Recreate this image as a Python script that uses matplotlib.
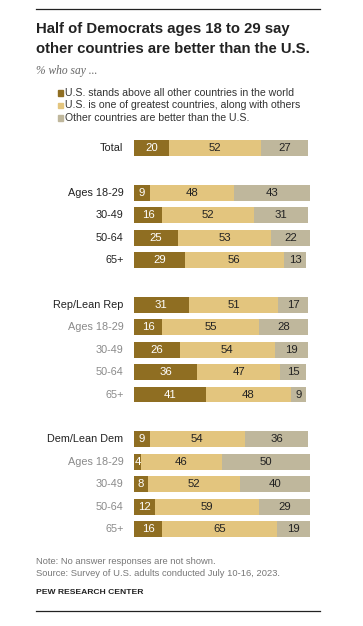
import matplotlib.pyplot as plt

plt.rcParams['font.family'] = ['Liberation Sans', 'DejaVu Sans']

labels = ['Total', 'Ages 18-29', '30-49', '50-64', '65+',
          'Rep/Lean Rep', 'Ages 18-29', '30-49', '50-64', '65+',
          'Dem/Lean Dem', 'Ages 18-29', '30-49', '50-64', '65+']
rows = [0, 2, 3, 4, 5, 7, 8, 9, 10, 11, 13, 14, 15, 16, 17]
above = [20, 9, 16, 25, 29, 31, 16, 26, 36, 41, 9, 4, 8, 12, 16]
one_of = [52, 48, 52, 53, 56, 51, 55, 54, 47, 48, 54, 46, 52, 59, 65]
better = [27, 43, 31, 22, 13, 17, 28, 19, 15, 9, 36, 50, 40, 29, 19]
series_names = ['U.S. stands above all other countries in the world',
                'U.S. is one of greatest countries, along with others',
                'Other countries are better than the U.S.']
label_dark = [True, True, True, True, True, True, False, False, False, False,
              True, False, False, False, False]

colors = ['#8f6e22', '#e3c57e', '#bfb79c']
W, H = 363, 626
fig = plt.figure(figsize=(W / 100, H / 100), dpi=100)

def fx(px):
    return px / W

def fy(py):
    return 1 - py / H

# rules
fig.add_artist(plt.Line2D([fx(36), fx(320)], [fy(9), fy(9)], color='#222222', lw=0.9))
fig.add_artist(plt.Line2D([fx(36), fx(320)], [fy(611), fy(611)], color='#222222', lw=0.9))

fig.text(fx(36), fy(29), 'Half of Democrats ages 18 to 29 say', fontsize=10.7,
         fontweight='bold', color='#222222', va='center')
fig.text(fx(36), fy(49), 'other countries are better than the U.S.', fontsize=10.7,
         fontweight='bold', color='#222222', va='center')
fig.text(fx(36), fy(71), '% who say ...', fontsize=8.3, style='italic',
         family='Liberation Serif', color='#666666', va='center')

for i, name in enumerate(series_names):
    y = 93 + i * 12.5
    fig.patches.append(plt.Rectangle((fx(57.5), fy(y + 2.8)), fx(5.5), 5.5 / H,
                                     color=colors[i], transform=fig.transFigure))
    fig.text(fx(65), fy(y), name, fontsize=7.6, color='#333333', va='center')

row_h = 22.4
top = 148 - row_h / 2
bot = 529 + row_h / 2
ax = fig.add_axes([fx(134), fy(bot), fx(310) - fx(134), (bot - top) / H])
ax.set_xlim(0, 100)
ax.set_ylim(17.5, -0.5)
ax.axis('off')

h = 0.71
left = [0] * len(rows)
for vals, c in zip([above, one_of, better], colors):
    ax.barh(rows, vals, left=left, height=h, color=c, edgecolor='none')
    for r, v, l in zip(rows, vals, left):
        tc = 'white' if c == colors[0] else '#222222'
        ax.text(l + v / 2, r, str(v), ha='center', va='center', fontsize=8.2, color=tc)
    left = [a + b for a, b in zip(left, vals)]

for r, lab, dark in zip(rows, labels, label_dark):
    ax.text(-6, r, lab, ha='right', va='center', fontsize=7.8,
            color='#222222' if dark else '#8a8a8a')

fig.text(fx(36), fy(562), 'Note: No answer responses are not shown.', fontsize=6.75,
         color='#777777', va='center')
fig.text(fx(36), fy(574), 'Source: Survey of U.S. adults conducted July 10-16, 2023.',
         fontsize=6.75, color='#777777', va='center')
fig.text(fx(36), fy(592), 'PEW RESEARCH CENTER', fontsize=6.1, fontweight='bold',
         color='#222222', va='center')

fig.savefig('out.png', dpi=100, facecolor='white')
